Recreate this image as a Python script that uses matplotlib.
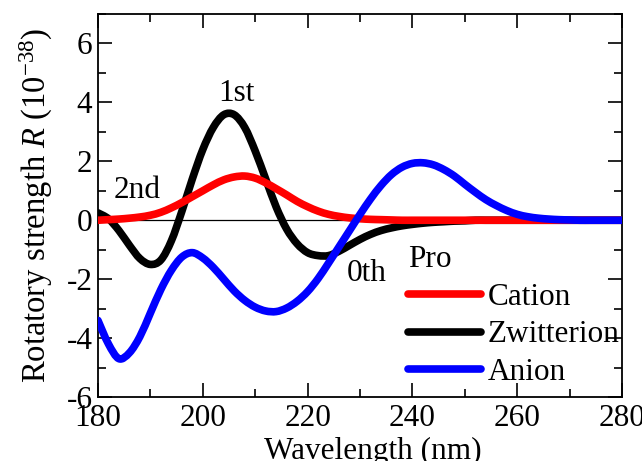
import numpy as np
import matplotlib
matplotlib.use("Agg")
import matplotlib.pyplot as plt
from matplotlib.ticker import MultipleLocator
from matplotlib.path import Path
from matplotlib.patches import PathPatch
from matplotlib.lines import Line2D

plt.rcParams['font.family'] = ['Liberation Serif', 'DejaVu Serif']
plt.rcParams['mathtext.fontset'] = 'custom'
plt.rcParams['mathtext.rm'] = 'Liberation Serif'
plt.rcParams['mathtext.it'] = 'Liberation Serif:italic'
plt.rcParams['axes.unicode_minus'] = False

wl = list(range(180, 282, 2))

cation = [0.0, 0.02, 0.04, 0.07, 0.11, 0.17, 0.27, 0.42, 0.6, 0.8,
          1.0, 1.2, 1.37, 1.47, 1.5, 1.43, 1.27, 1.07, 0.86, 0.64,
          0.46, 0.31, 0.2, 0.13, 0.08, 0.05, 0.03, 0.02, 0.01, 0.0,
          0.0, 0.0, 0.0, 0.0, 0.0, 0.0, 0.0, 0.0, 0.0, 0.0,
          0.0, 0.0, 0.0, 0.0, 0.0, 0.0, 0.0, 0.0, 0.0, 0.0, 0.0]

zwitterion = [0.25, 0.05, -0.35, -0.85, -1.3, -1.5, -1.35, -0.7, 0.3, 1.4,
              2.4, 3.15, 3.58, 3.58, 3.15, 2.35, 1.4, 0.45, -0.3, -0.8,
              -1.1, -1.2, -1.2, -1.05, -0.85, -0.65, -0.48, -0.35, -0.26, -0.19,
              -0.14, -0.1, -0.07, -0.05, -0.03, -0.02, 0.0, 0.0, 0.0, 0.0,
              0.0, 0.0, 0.0, 0.0, 0.0, 0.0, 0.0, 0.0, 0.0, 0.0, 0.0]

anion = [-3.4, -4.2, -4.7, -4.5, -3.95, -3.15, -2.35, -1.7, -1.25, -1.1,
         -1.28, -1.6, -2.0, -2.4, -2.72, -2.95, -3.08, -3.1, -2.98, -2.75,
         -2.42, -1.98, -1.45, -0.9, -0.35, 0.2, 0.72, 1.18, 1.55, 1.8,
         1.93, 1.95, 1.88, 1.72, 1.5, 1.22, 0.95, 0.7, 0.5, 0.33,
         0.2, 0.12, 0.07, 0.04, 0.02, 0.01, 0.0, 0.0, 0.0, 0.0, 0.0]

series_names = ["Cation", "Zwitterion", "Anion"]
colors = ["#ff0000", "#000000", "#0000ff"]
zorders = [3, 2, 4]

LW = 5.5
FS = 22.5


def smooth_path(x, y):
    """Catmull-Rom curve through the data points, as cubic Bezier segments."""
    x = np.asarray(x, float)
    y = np.asarray(y, float)
    verts = [(x[0], y[0])]
    codes = [Path.MOVETO]
    n = len(x)
    for i in range(n - 1):
        x0, y0 = (x[i - 1], y[i - 1]) if i > 0 else (x[i], y[i])
        x3, y3 = (x[i + 2], y[i + 2]) if i + 2 < n else (x[i + 1], y[i + 1])
        x1, y1 = x[i], y[i]
        x2, y2 = x[i + 1], y[i + 1]
        c1 = (x1 + (x2 - x0) / 6.0, y1 + (y2 - y0) / 6.0)
        c2 = (x2 - (x3 - x1) / 6.0, y2 - (y3 - y1) / 6.0)
        verts += [c1, c2, (x2, y2)]
        codes += [Path.CURVE4] * 3
    return Path(verts, codes)


fig = plt.figure(figsize=(6.42, 4.61), dpi=100)
ax = fig.add_axes([0.1526, 0.1388, 0.8164, 0.8308])

ax.axhline(0, color='black', lw=0.9, zorder=1)
handles = []
for data, name, c, z in zip([cation, zwitterion, anion], series_names, colors, zorders):
    patch = PathPatch(smooth_path(wl, data), facecolor='none', edgecolor=c,
                      lw=LW, capstyle='round', joinstyle='round', zorder=z)
    ax.add_patch(patch)
    handles.append(Line2D([], [], color=c, lw=LW, solid_capstyle='round', label=name))

ax.set_xlim(180, 280)
ax.set_ylim(-6, 7)
ax.xaxis.set_major_locator(MultipleLocator(20))
ax.xaxis.set_minor_locator(MultipleLocator(10))
ax.set_yticks([-6, -4, -2, 0, 2, 4, 6])
ax.yaxis.set_minor_locator(MultipleLocator(1))
ax.set_ylim(-6, 7)
ax.tick_params(which='both', direction='in', top=True, right=True, width=1.2)
ax.tick_params(which='major', length=10, labelsize=FS)
ax.tick_params(axis='x', which='major', pad=5)
ax.tick_params(axis='y', which='major', pad=4)
ax.tick_params(which='minor', length=6)
for s in ax.spines.values():
    s.set_linewidth(1.3)

ax.set_xlabel("Wavelength (nm)", fontsize=FS)
ax.xaxis.set_label_coords(0.524, -0.104)
ax.xaxis.label.set_va('top')
ax.set_ylabel("Rotatory strength $R$ (10$^{-38}$)", fontsize=23.5, labelpad=8)

ax.text(206.5, 4.3, "1st", fontsize=FS, ha='center', va='center')
ax.text(187.5, 1.0, "2nd", fontsize=FS, ha='center', va='center')
ax.text(231.3, -1.8, "0th", fontsize=FS, ha='center', va='center')

leg = ax.legend(handles=handles, title="Pro", loc='upper left',
                bbox_to_anchor=(0.591, 0.397),
                frameon=False, fontsize=FS, title_fontsize=FS,
                handlelength=2.35, handletextpad=0.2, labelspacing=0.28,
                alignment='left', borderaxespad=0.0, borderpad=0.0)
leg.set_zorder(5)

fig.savefig("out.png", dpi=100)
